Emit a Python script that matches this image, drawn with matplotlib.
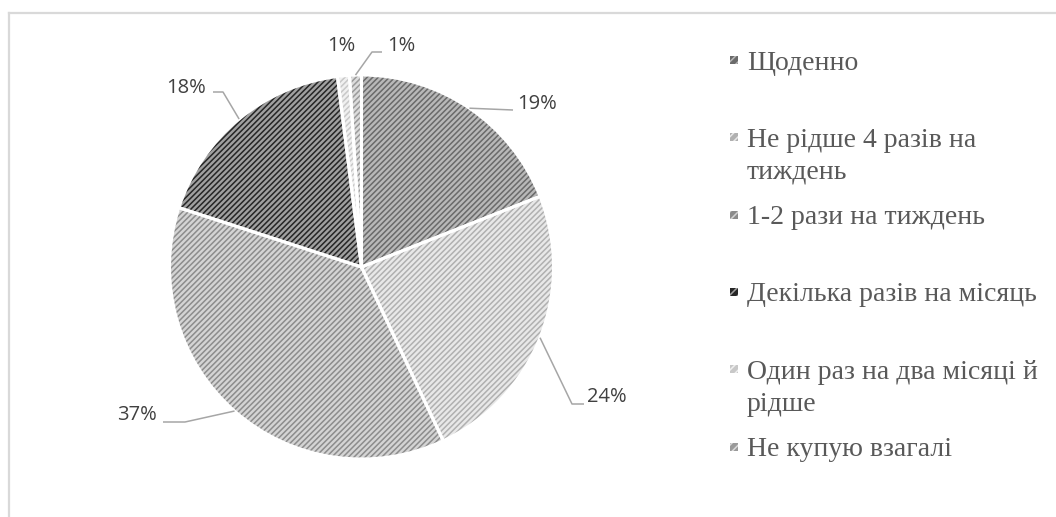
import matplotlib.pyplot as plt
import numpy as np
from matplotlib.patches import Rectangle

# data
categories = ["Щоденно", "Не рідше 4 разів на\nтиждень", "1-2 рази на тиждень",
              "Декілька разів на місяць", "Один раз на два місяці й\nрідше", "Не купую взагалі"]
shares = [19, 24, 37, 18, 1, 1]
pct_labels = ["19%", "24%", "37%", "18%", "1%", "1%"]

face_colors = ["#b8b8b8", "#e8e8e8", "#d4d4d4", "#a0a0a0", "#f0f0f0", "#dcdcdc"]
hatch_colors = ["#6a6a6a", "#b0b0b0", "#8c8c8c", "#262626", "#c8c8c8", "#9a9a9a"]

W, H = 1056, 517
CX, CY, R = 361.5, 267, 192

def Y(py):
    return H - py

# label text positions and leader elbows in pixels (None = no leader)
text_pos = [(537, 104), (607, 397), (137, 415), (186, 88), (341, 46), (401, 46)]
elbows = [[(513, 110)], [(572, 404), (584, 404)], [(185, 422), (163, 422)],
          [(223, 92), (213, 92)], None, [(372, 52), (382, 52)]]

plt.rcParams['hatch.linewidth'] = 1.1

fig = plt.figure(figsize=(W / 100, H / 100), dpi=100)
ax = fig.add_axes([0, 0, 1, 1])

wedges, _ = ax.pie(shares, center=(CX, Y(CY)), radius=R, startangle=90,
                   counterclock=False, frame=True, colors=face_colors)
for w, hc in zip(wedges, hatch_colors):
    w.set_hatch("//////")
    w.set_edgecolor(hc)
    w.set_linewidth(0)

# white separators on top
sep, _ = ax.pie(shares, center=(CX, Y(CY)), radius=R, startangle=90,
                counterclock=False, frame=True,
                wedgeprops=dict(facecolor="none", edgecolor="white", linewidth=2.2))

for w, lab, tp, el in zip(wedges, pct_labels, text_pos, elbows):
    if el is not None:
        th = np.deg2rad((w.theta1 + w.theta2) / 2)
        x0 = CX + R * np.cos(th)
        y0 = Y(CY) + R * np.sin(th)
        xs = [x0] + [p[0] for p in el]
        ys = [y0] + [Y(p[1]) for p in el]
        ax.plot(xs, ys, color="#a6a6a6", lw=1.1, solid_capstyle="butt")
    ax.text(tp[0], Y(tp[1]), lab, ha="center", va="center", fontsize=14.5,
            color="#404040", family="Open Sans")

# legend drawn by hand
for i, (cat, fc, hc) in enumerate(zip(categories, face_colors, hatch_colors)):
    ly = 60 + i * 77.3
    ax.add_patch(Rectangle((730, Y(ly) - 4), 8, 8, facecolor=hc, edgecolor=fc,
                           hatch="////", linewidth=0))
    for k, line in enumerate(cat.split("\n")):
        ax.text(747, Y(ly + k * 32), line, ha="left", va="center_baseline",
                fontsize=20, color="#595959", family="Liberation Serif")

ax.set_xlim(0, W)
ax.set_ylim(0, H)
ax.axis("off")

# chart area border (only top and left visible in the crop)
ax.plot([9, W], [Y(13), Y(13)], color="#d9d9d9", lw=1.6, clip_on=False)
ax.plot([9, 9], [Y(13), 0], color="#d9d9d9", lw=1.6, clip_on=False)

fig.savefig("out.png", dpi=100, facecolor="white")
